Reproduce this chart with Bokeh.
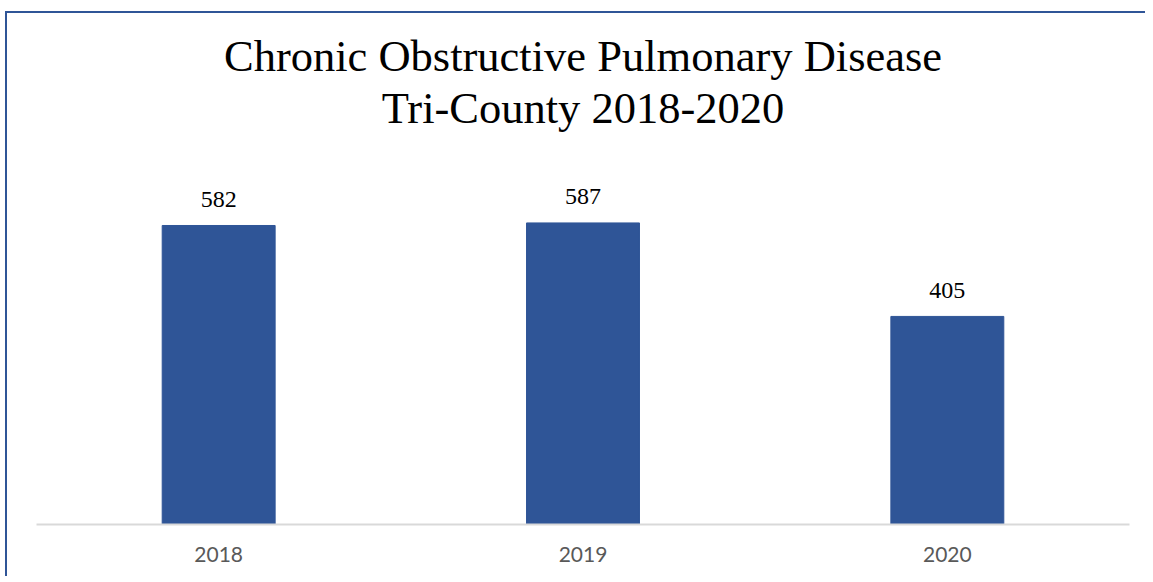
from bokeh.plotting import figure
from bokeh.models import ColumnDataSource, Title, Range1d
from bokeh.embed import file_html
from bokeh.resources import INLINE

# ---- data ----
years = ["2018", "2019", "2020"]
cases = [582, 587, 405]
title_line1 = "Chronic Obstructive Pulmonary Disease"
title_line2 = "Tri-County 2018-2020"

BAR = "#2F5597"
SERIF = "Liberation Serif"

source = ColumnDataSource(data=dict(year=years, cases=cases, label=[str(v) for v in cases]))

p = figure(
    x_range=years,
    y_range=Range1d(0, 763),
    width=1140,
    height=565,
    output_backend="svg",
    toolbar_location=None,
    min_border_left=29,
    min_border_right=18,
    min_border_bottom=54,
    min_border_top=119,
    margin=(11, 0, 0, 5),
)
p.styles = {"border-left": "2px solid " + BAR, "border-top": "2px solid " + BAR}

p.add_layout(Title(text=title_line2, align="center", text_font=SERIF,
                   text_font_size="44.5px", text_font_style="normal", text_color="#000000",
                   standoff=0, offset=0), "above")
p.add_layout(Title(text=title_line1, align="center", text_font=SERIF,
                   text_font_size="44.5px", text_font_style="normal", text_color="#000000",
                   standoff=0, offset=0), "above")

p.vbar(x="year", top="cases", width=0.31, source=source, color=BAR)
p.text(x="year", y="cases", text="label", source=source, text_align="center",
       text_baseline="alphabetic", y_offset=-26, text_font_size="24px",
       text_color="#000000", text_font={"value": SERIF})

p.outline_line_color = None
p.grid.grid_line_color = None
p.yaxis.visible = False
p.xaxis.axis_line_color = "#D9D9D9"
p.xaxis.axis_line_width = 2
p.xaxis.major_tick_line_color = None
p.xaxis.minor_tick_line_color = None
p.xaxis.major_tick_out = 0
p.xaxis.major_tick_in = 0
p.xaxis.major_label_standoff = 22
p.xaxis.major_label_text_font = "Lato"
p.xaxis.major_label_text_font_size = "21px"
p.xaxis.major_label_text_color = "#595959"
p.x_range.range_padding = 0
p.background_fill_color = "white"
p.border_fill_color = "white"

open("out.html", "w").write(file_html(p, INLINE))
